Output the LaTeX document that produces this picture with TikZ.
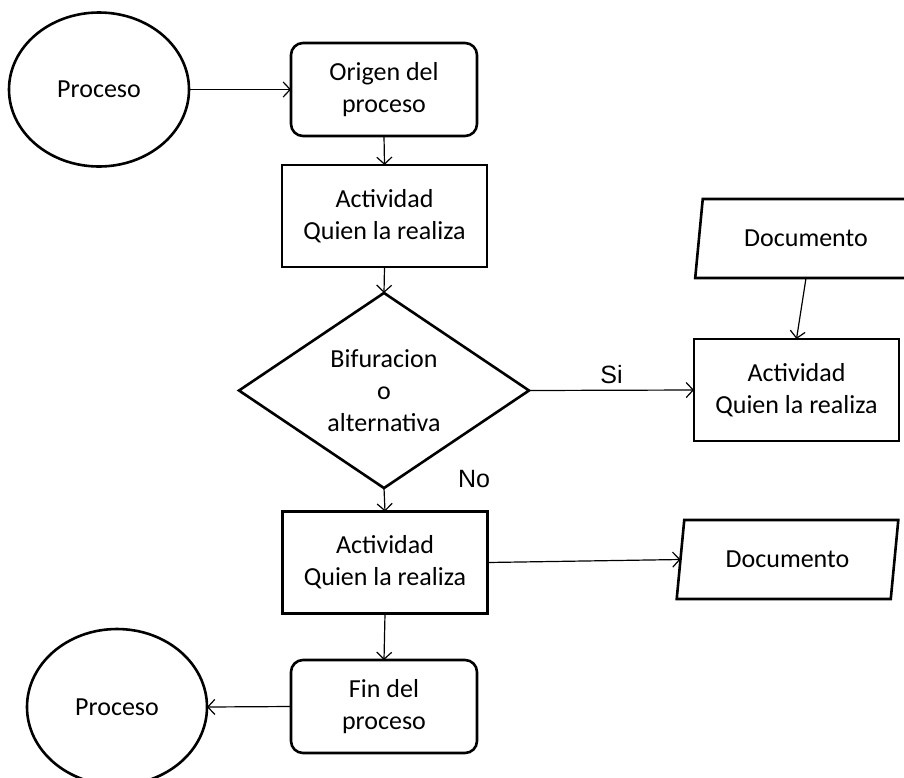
\documentclass[tikz,border=0pt]{standalone}
\usepackage{fontspec}
\setmainfont{Carlito}
\newfontfamily\arialfont{Liberation Sans}
\usetikzlibrary{shapes.geometric,arrows.meta}

\tikzset{
  boxtext/.style={font=\fontsize{26}{32}\selectfont, align=center, text=black},
  shapeline/.style={draw=black, line width=2.6pt, inner sep=0pt, outer sep=0pt},
  terminal/.style={shapeline, boxtext, ellipse, minimum width=180pt, minimum height=154pt},
  roundbox/.style={shapeline, boxtext, rectangle, rounded corners=12pt, minimum width=186pt, minimum height=93pt},
  taskbox/.style={shapeline, boxtext, rectangle, minimum width=205pt, minimum height=102pt},
  decision/.style={shapeline, boxtext, diamond, minimum width=290pt, minimum height=195pt},
  docbox/.style={shapeline, boxtext, trapezium, trapezium left angle=75, trapezium right angle=105,
    trapezium stretches=true, minimum width=222pt, minimum height=79pt},
  arr/.style={draw=black, line width=1.2pt, -{Straight Barb[length=7pt,width=15pt,line width=1.2pt]}},
  lbl/.style={font=\arialfont\fontsize{25}{30}\selectfont, text=black, inner sep=0pt}
}

\begin{document}
\begin{tikzpicture}[x=1pt, y=-1pt]
  \clip (0,0) rectangle (904,777);
  \fill[white] (0,0) rectangle (904,777);

  % nodes of the flow
  \node[terminal] (p1) at (99,89.5) {Proceso};
  \node[roundbox] (orig) at (384,89.5) {Origen del\\proceso};
  \node[taskbox] (a1) at (384.5,216) {Actividad\\Quien la realiza};
  \node[decision] (dec) at (384,390.5) {Bifuracion\\o\\alternativa};
  \node[taskbox] (ar) at (796.5,390) {Actividad\\Quien la realiza};
  \node[docbox] (d1) at (806,238.5) {Documento};
  \node[taskbox] (a2) at (385,562.5) {Actividad\\Quien la realiza};
  \node[docbox] (d2) at (787.5,559.5) {Documento};
  \node[roundbox] (fin) at (384,706.5) {Fin del\\proceso};
  \node[terminal, minimum height=156pt] (p2) at (117,707) {Proceso};

  % connectors
  \draw[arr] (p1.east) -- (orig.west);
  \draw[arr] (orig.south) -- (a1.north);
  \draw[arr] (a1.south) -- (dec.north);
  \draw[arr] (dec.east) -- node[lbl, midway, yshift=16pt] {Si} (ar.west);
  \draw[arr] (d1.south) -- (ar.north);
  \draw[arr] (dec.south) -- node[lbl, pos=0, xshift=90pt, yshift=9pt] {No} (a2.north);
  \draw[arr] (a2.east) -- (d2.west);
  \draw[arr] (a2.south) -- (fin.north);
  \draw[arr] (fin.west) -- (p2.east);
\end{tikzpicture}
\end{document}
